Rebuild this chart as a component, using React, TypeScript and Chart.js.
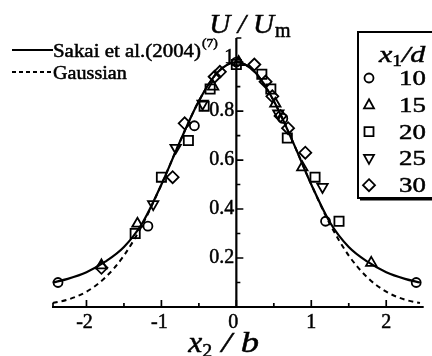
import React, { useEffect, useRef } from "react";
import { Chart, registerables } from "chart.js";

Chart.register(...registerables);

// Lateral profile samples, x2/b
const curveX = [-2.45, -2.25, -2, -1.75, -1.5, -1.25, -1, -0.75, -0.5, -0.25, 0, 0.25, 0.5, 0.75, 1, 1.25, 1.5, 1.75, 2, 2.25, 2.45];
// Sakai et al. (2004) profile
const sakaiU = [0.1, 0.115, 0.142, 0.185, 0.245, 0.345, 0.5, 0.677, 0.841, 0.958, 1, 0.958, 0.841, 0.677, 0.5, 0.345, 0.245, 0.185, 0.142, 0.115, 0.1];
// Gaussian profile
const gaussU = [0.016, 0.03, 0.0625, 0.12, 0.21, 0.338, 0.5, 0.677, 0.841, 0.958, 1, 0.958, 0.841, 0.677, 0.5, 0.338, 0.21, 0.12, 0.0625, 0.03, 0.016];

// Measured points per station x1/d
const x10 = [-2.38, -1.18, -0.56, 0, 0.62, 1.19, 2.4];
const u10 = [0.1, 0.33, 0.74, 1.0, 0.77, 0.35, 0.1];
const x15 = [-1.8, -1.32, -0.31, 0.03, 0.52, 0.88, 1.8];
const u15 = [0.17, 0.34, 0.9, 1.0, 0.83, 0.57, 0.18];
const x20 = [-1.35, -1.0, -0.64, -0.43, -0.35, 0, 0.34, 0.46, 0.68, 1.05, 1.37];
const u20 = [0.3, 0.53, 0.68, 0.82, 0.89, 0.99, 0.95, 0.89, 0.69, 0.53, 0.35];
const x25 = [-1.11, -0.81, -0.45, 0.56, 1.15];
const u25 = [0.42, 0.65, 0.83, 0.79, 0.49];
const x30 = [-1.8, -0.85, -0.69, -0.29, -0.22, 0.24, 0.39, 0.48, 0.59, 0.69, 0.92];
const u30 = [0.16, 0.53, 0.75, 0.94, 0.96, 0.99, 0.92, 0.86, 0.78, 0.73, 0.63];

const stations = ["10", "15", "20", "25", "30"];

const xMajor = [-2, -1, 0, 1, 2];
const xMinor = [-1.5, -0.5, 0.5, 1.5];
const yMajor = [0.2, 0.4, 0.6, 0.8, 1.0];
const yMinor = [0.1, 0.3, 0.5, 0.7, 0.9];
const yLabels = ["0.2", "0.4", "0.6", "0.8", "1"];

const SERIF = '"Liberation Serif", "Times New Roman", serif';

const pts = (xs: number[], ys: number[]) => xs.map((x, i) => ({ x, y: ys[i] }));

type Shape = "circle" | "up" | "square" | "down" | "diamond";
const shapes: Shape[] = ["circle", "up", "square", "down", "diamond"];

// Heavy, optionally widened serif text; returns the drawn width.
function txt(ctx: CanvasRenderingContext2D, font: string, s: string, x: number, y: number, sx = 1, align: CanvasTextAlign = "left") {
  ctx.save();
  ctx.font = font;
  ctx.textAlign = align;
  ctx.translate(x, y);
  ctx.scale(sx, 1);
  ctx.lineWidth = 0.5;
  ctx.strokeStyle = "#000";
  ctx.fillText(s, 0, 0);
  ctx.strokeText(s, 0, 0);
  const w = ctx.measureText(s).width * sx;
  ctx.restore();
  return w;
}

function marker(ctx: CanvasRenderingContext2D, shape: Shape, x: number, y: number) {
  ctx.beginPath();
  if (shape === "circle") {
    ctx.arc(x, y, 4.5, 0, Math.PI * 2);
  } else if (shape === "square") {
    ctx.rect(x - 4.5, y - 4.5, 9, 9);
  } else if (shape === "diamond") {
    ctx.moveTo(x, y - 6);
    ctx.lineTo(x + 6, y);
    ctx.lineTo(x, y + 6);
    ctx.lineTo(x - 6, y);
    ctx.closePath();
  } else {
    const s = shape === "up" ? 1 : -1;
    ctx.moveTo(x, y - 5.5 * s);
    ctx.lineTo(x + 5, y + 3.5 * s);
    ctx.lineTo(x - 5, y + 3.5 * s);
    ctx.closePath();
  }
  ctx.stroke();
}

const paperAxes = {
  id: "paperAxes",
  beforeDatasetsDraw(chart: any) {
    const ctx: CanvasRenderingContext2D = chart.ctx;
    const xs = chart.scales.x;
    const ys = chart.scales.y;
    const x0 = xs.getPixelForValue(0);
    const y0 = ys.getPixelForValue(0);
    ctx.save();
    ctx.strokeStyle = "#000";
    ctx.fillStyle = "#000";
    ctx.lineWidth = 2.2;
    ctx.beginPath();
    ctx.moveTo(xs.left, y0);
    ctx.lineTo(xs.right, y0);
    ctx.moveTo(x0, y0);
    ctx.lineTo(x0, ys.top - 2);
    ctx.stroke();

    ctx.lineWidth = 1.7;
    ctx.beginPath();
    xMajor.forEach((v) => {
      const p = xs.getPixelForValue(v);
      ctx.moveTo(p, y0);
      ctx.lineTo(p, y0 - 7);
    });
    xMinor.forEach((v) => {
      const p = xs.getPixelForValue(v);
      ctx.moveTo(p, y0);
      ctx.lineTo(p, y0 - 4);
    });
    yMajor.forEach((v) => {
      const p = ys.getPixelForValue(v);
      ctx.moveTo(x0, p);
      ctx.lineTo(x0 + 7, p);
    });
    yMinor.forEach((v) => {
      const p = ys.getPixelForValue(v);
      ctx.moveTo(x0, p);
      ctx.lineTo(x0 + 4, p);
    });
    ctx.moveTo(xs.left + 1, y0);
    ctx.lineTo(xs.left + 1, y0 - 4);
    ctx.moveTo(x0, ys.top - 2);
    ctx.lineTo(x0 + 5, ys.top - 2);
    ctx.stroke();

    const f = `20px ${SERIF}`;
    ctx.textBaseline = "alphabetic";
    xMajor.forEach((v) => {
      const p = xs.getPixelForValue(v);
      txt(ctx, f, v < 0 ? "-" + Math.abs(v) : String(v), p - (v === 0 ? 3 : 0) - (v < 0 ? 2 : 0), y0 + 21, 1, "center");
    });
    ctx.textBaseline = "middle";
    yMajor.forEach((v, i) => {
      const p = ys.getPixelForValue(v);
      txt(ctx, f, yLabels[i], x0 - 2, p - (v === 1 ? 4 : 0), 1, "right");
    });
    ctx.restore();
  },
  afterDraw(chart: any) {
    const ctx: CanvasRenderingContext2D = chart.ctx;
    const xs = chart.scales.x;
    const x0 = xs.getPixelForValue(0);
    ctx.save();
    ctx.fillStyle = "#000";
    ctx.strokeStyle = "#000";
    ctx.textBaseline = "alphabetic";

    // y-axis title: U / U_m
    const it28 = `italic 28px ${SERIF}`;
    let tx = x0 - 27;
    tx += txt(ctx, it28, "U / U", tx, 33, 1.04) + 1;
    txt(ctx, `20px ${SERIF}`, "m", tx, 37);

    // x-axis title: x_2 / b
    const it30 = `italic 30px ${SERIF}`;
    tx = x0 - 48;
    tx += txt(ctx, it30, "x", tx, 352, 1.05);
    tx += txt(ctx, `19px ${SERIF}`, "2", tx, 357, 1.05);
    txt(ctx, it30, " / b", tx, 352, 1.22);

    // line legend, upper left
    ctx.lineWidth = 2;
    ctx.beginPath();
    ctx.moveTo(12, 50);
    ctx.lineTo(53, 50);
    ctx.stroke();
    ctx.setLineDash([4, 3]);
    ctx.beginPath();
    ctx.moveTo(12, 72);
    ctx.lineTo(53, 72);
    ctx.stroke();
    ctx.setLineDash([]);
    const f19 = `19px ${SERIF}`;
    const w1 = txt(ctx, f19, "Sakai et al.(2004)", 53, 57, 1.1);
    txt(ctx, `13px ${SERIF}`, "(7)", 53 + w1 + 1, 47, 1.05);
    txt(ctx, f19, "Gaussian", 53, 79, 1.06);

    // station legend box, right
    ctx.lineWidth = 2;
    ctx.strokeRect(358, 32, 80, 166);
    ctx.lineWidth = 3;
    ctx.beginPath();
    ctx.moveTo(360, 199);
    ctx.lineTo(432, 199);
    ctx.stroke();
    const it24 = `italic 24px ${SERIF}`;
    tx = 379;
    tx += txt(ctx, it24, "x", tx, 62, 1.25);
    tx += txt(ctx, `16px ${SERIF}`, "1", tx, 66, 1.2);
    txt(ctx, it24, "/d", tx, 62, 1.25);
    stations.forEach((s, i) => {
      const base = 85 + 26.8 * i;
      ctx.lineWidth = 1.8;
      marker(ctx, shapes[i], 369, base - 7);
      txt(ctx, `22px ${SERIF}`, s, 399, base, 1.22);
    });
    ctx.restore();
  },
};

export default function App() {
  const ref = useRef<HTMLCanvasElement | null>(null);

  useEffect(() => {
    document.body.style.margin = "0";
    const canvas = ref.current;
    if (!canvas) return;
    const pointSet = (label: string, data: any[], style: any, radius: number, rotation = 0) => ({
      label,
      data,
      showLine: false,
      pointStyle: style,
      pointRadius: radius,
      pointRotation: rotation,
      pointBorderColor: "#000",
      pointBackgroundColor: "rgba(0,0,0,0)",
      pointBorderWidth: 1.8,
    });
    const chart = new Chart(canvas, {
      type: "scatter",
      data: {
        datasets: [
          {
            label: "Sakai et al.(2004)",
            data: pts(curveX, sakaiU),
            showLine: true,
            borderColor: "#000",
            borderWidth: 2.2,
            pointRadius: 0,
            cubicInterpolationMode: "monotone",
          },
          {
            label: "Gaussian",
            data: pts(curveX, gaussU),
            showLine: true,
            borderColor: "#000",
            borderWidth: 2,
            borderDash: [5, 4],
            pointRadius: 0,
            cubicInterpolationMode: "monotone",
          },
          pointSet("10", pts(x10, u10), "circle", 4.5),
          pointSet("15", pts(x15, u15), "triangle", 6),
          pointSet("20", pts(x20, u20), "rect", 6.5),
          pointSet("25", pts(x25, u25), "triangle", 6, 180),
          pointSet("30", pts(x30, u30), "rectRot", 6),
        ] as any,
      },
      options: {
        animation: false,
        responsive: false,
        layout: { padding: { left: 52, right: 0, top: 40, bottom: 49 } },
        plugins: { legend: { display: false }, tooltip: { enabled: false } },
        scales: {
          x: { type: "linear", min: -2.46, max: 2.5, display: false },
          y: { type: "linear", min: 0, max: 1.09, display: false },
        },
      },
      plugins: [paperAxes],
    });
    return () => chart.destroy();
  }, []);

  return (
    <div style={{ width: 432, height: 356, background: "#fff" }}>
      <canvas ref={ref} width={432} height={356} />
    </div>
  );
}
